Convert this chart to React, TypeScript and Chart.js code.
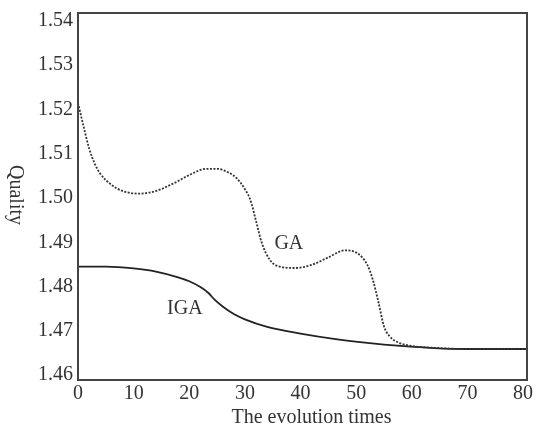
import React, { useEffect, useRef } from "react";
import { Chart, registerables } from "chart.js";
Chart.register(...registerables);

const gaX = [0, 1, 2, 3, 4, 6, 8, 11, 14, 17, 20, 23, 25, 27, 28.5, 30, 31, 32, 33, 34.5, 36, 39, 42, 45, 48, 50, 52, 53, 54, 55, 56, 57.5, 60, 65, 70, 80.7];
const gaY = [1.5215, 1.5162, 1.5112, 1.5078, 1.5055, 1.503, 1.5016, 1.501, 1.5016, 1.5032, 1.5052, 1.5066, 1.5066, 1.5058, 1.5045, 1.502, 1.4995, 1.4948, 1.49, 1.486, 1.4846, 1.4842, 1.4849, 1.4866, 1.4882, 1.4877, 1.4849, 1.4815, 1.4765, 1.471, 1.4688, 1.4674, 1.4666, 1.4661, 1.4659, 1.4659];
const igaX = [0, 5, 10, 14, 18, 20, 22, 23.5, 24.5, 26, 28, 30, 34, 40, 46, 52, 58, 64, 70, 80.7];
const igaY = [1.4845, 1.4845, 1.4841, 1.4834, 1.4821, 1.4812, 1.4799, 1.4785, 1.4771, 1.4755, 1.4738, 1.4726, 1.4709, 1.4694, 1.4682, 1.4673, 1.4666, 1.4661, 1.4659, 1.4659];
const xTicks = [0, 10, 20, 30, 40, 50, 60, 70, 80];
const yTicks = [1.46, 1.47, 1.48, 1.49, 1.5, 1.51, 1.52, 1.53, 1.54];
const xTitle = "The evolution times";
const yTitle = "Quality";
const seriesLabels = ["GA", "IGA"];

const FONT = "'Liberation Serif', 'DejaVu Serif', serif";
const INK = "#333";

export default function App() {
  const ref = useRef<HTMLCanvasElement>(null);
  useEffect(() => {
    document.body.style.margin = "0";
    const ctx = ref.current!.getContext("2d")!;
    const overlay = {
      id: "overlay",
      afterDraw(chart: any) {
        const c = chart.ctx;
        const a = chart.chartArea;
        const xs = chart.scales.x;
        const ys = chart.scales.y;
        c.save();
        c.strokeStyle = "#444";
        c.lineWidth = 2;
        c.strokeRect(a.left, a.top, a.right - a.left, a.bottom - a.top);
        c.fillStyle = INK;
        c.font = `20px ${FONT}`;
        c.textAlign = "center";
        c.textBaseline = "middle";
        c.fillText(seriesLabels[0], xs.getPixelForValue(37.9), ys.getPixelForValue(1.4896));
        c.fillText(seriesLabels[1], xs.getPixelForValue(19.2), ys.getPixelForValue(1.4749));
        c.fillText(xTitle, (a.left + a.right) / 2 + 9, 418);
        c.translate(15, 195);
        c.rotate(Math.PI / 2);
        c.fillText(yTitle, 0, 0);
        c.restore();
      },
    };
    const chart = new Chart(ctx, {
      type: "line",
      data: {
        datasets: [
          {
            label: seriesLabels[0],
            data: gaX.map((x, i) => ({ x, y: gaY[i] })),
            borderColor: "#333",
            borderWidth: 1.8,
            borderDash: [2, 1.5],
            pointRadius: 0,
            cubicInterpolationMode: "monotone",
            fill: false,
          },
          {
            label: seriesLabels[1],
            data: igaX.map((x, i) => ({ x, y: igaY[i] })),
            borderColor: "#222",
            borderWidth: 1.8,
            pointRadius: 0,
            cubicInterpolationMode: "monotone",
            fill: false,
          },
        ],
      },
      options: {
        animation: false,
        responsive: false,
        layout: { padding: { top: 13, right: 7, left: 0, bottom: 0 } },
        plugins: { legend: { display: false }, tooltip: { enabled: false } },
        scales: {
          x: {
            type: "linear",
            min: 0,
            max: 80.7,
            grid: { display: false, drawTicks: false },
            border: { display: false },
            afterBuildTicks: (s: any) => {
              s.ticks = xTicks.map((v) => ({ value: v }));
            },
            afterFit: (s: any) => {
              s.height = 48;
              s.paddingLeft = 0;
              s.paddingRight = 0;
            },
            ticks: {
              color: INK,
              font: { family: FONT, size: 20 },
              padding: 2,
              maxRotation: 0,
              callback: (v: any) => String(v),
            },
          },
          y: {
            type: "linear",
            min: 1.4589,
            max: 1.5418,
            grid: { display: false, drawTicks: false },
            border: { display: false },
            afterBuildTicks: (s: any) => {
              s.ticks = yTicks.map((v) => ({ value: v }));
            },
            afterFit: (s: any) => {
              s.width = 78;
              s.paddingTop = 0;
              s.paddingBottom = 0;
            },
            ticks: {
              color: INK,
              font: { family: FONT, size: 20 },
              padding: 5,
              callback: (v: any) => Number(v).toFixed(2),
            },
          },
        },
      },
      plugins: [overlay],
    });
    return () => chart.destroy();
  }, []);
  return (
    <div style={{ position: "absolute", left: 0, top: 0, width: 534, height: 428, background: "#fff" }}>
      <canvas ref={ref} width={534} height={428} />
    </div>
  );
}
